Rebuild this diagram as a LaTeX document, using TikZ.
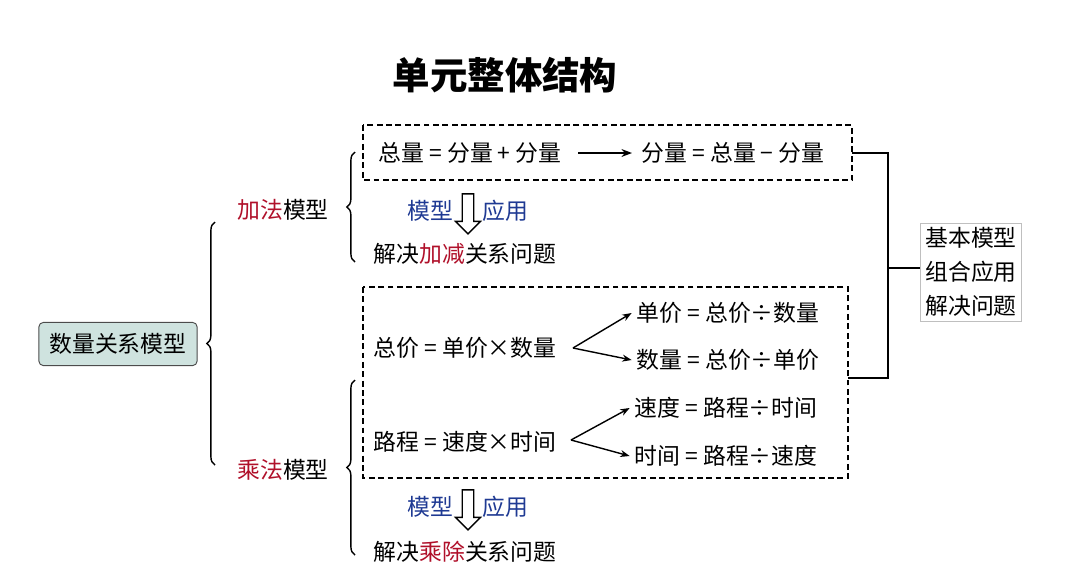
\documentclass[tikz,border=0pt]{standalone}
\usepackage{fontspec}
\setmainfont{Noto Sans CJK SC}
\usetikzlibrary{arrows.meta,positioning,shapes.arrows,decorations.pathreplacing}
\definecolor{modred}{HTML}{B0102A}
\definecolor{modblue}{HTML}{1F3A93}
\definecolor{rootfill}{HTML}{CFE3DF}
\begin{document}
\begin{tikzpicture}[x=0.03cm,y=-0.03cm,
    txt/.style={font=\fontsize{19.5}{23}\selectfont,inner sep=1pt},
    blue txt/.style={txt,text=modblue},
    brace/.style={decorate,decoration={brace,amplitude=7pt,raise=0pt},line width=1.2pt},
    dbox/.style={draw,dash pattern=on 5pt off 3pt,line width=1.1pt},
    hollow/.style={single arrow,draw,line width=1.1pt,shape border rotate=270,minimum height=1.2cm,
                   minimum width=0.75cm,single arrow head extend=3pt,inner sep=2pt},
    fork/.style={-{Stealth[length=8pt]},line width=1.2pt}]
  \useasboundingbox (0,0) rectangle (1080,575);

  \node[font=\fontsize{32}{36}\selectfont\bfseries] (title) at (505,75) {单元整体结构};

  % left part
  \node[txt,draw=black!70,thick,fill=rootfill,rounded corners=4pt,minimum width=4.75cm,
        minimum height=1.3cm] (root) at (118,344) {数量关系模型};
  \draw[brace] (215,465) -- (215,222);
  \node[txt] (add) at (283,210) {\textcolor{modred}{加法}模型};
  \node[txt] (mul) at (283,470) {\textcolor{modred}{乘法}模型};

  % addition model
  \draw[brace] (355,262) -- (355,152);
  \draw[dbox] (363,125) rectangle (852,180);
  \coordinate (box1r) at (852,153);
  \node[txt] (sum) at (470,153) {总量 = 分量 + 分量};
  \node[txt] (part) at (733,153) {分量 = 总量 − 分量};
  \draw[-{Stealth[length=9pt]},line width=1.2pt] (578,153) -- (632,153);
  \node[hollow] (arrA) at (468,211) {};
  \node[blue txt,left=6pt of arrA] (modA) {模型};
  \node[blue txt,right=6pt of arrA] (useA) {应用};
  \node[txt] (solveA) at (465,254) {解决\textcolor{modred}{加减}关系问题};

  % multiplication model
  \draw[brace] (355,555) -- (355,380);
  \draw[dbox] (363,287) rectangle (848,478);
  \coordinate (box2r) at (848,378);
  \node[txt] (price) at (465,348) {总价 = 单价×数量};
  \node[txt] (unit) at (728,313) {单价 = 总价÷数量};
  \node[txt] (qty) at (728,360) {数量 = 总价÷单价};
  \coordinate (f1) at (573,348);
  \draw[fork] (f1) -- ([xshift=-3pt]unit.west);
  \draw[fork] (f1) -- ([xshift=-3pt]qty.west);
  \node[txt] (dist) at (465,442) {路程 = 速度×时间};
  \node[txt] (speed) at (726,408) {速度 = 路程÷时间};
  \node[txt] (time) at (726,456) {时间 = 路程÷速度};
  \coordinate (f2) at (571,440);
  \draw[fork] (f2) -- ([xshift=-3pt]speed.west);
  \draw[fork] (f2) -- ([xshift=-3pt]time.west);
  \node[hollow] (arrM) at (468,507) {};
  \node[blue txt,left=6pt of arrM] (modM) {模型};
  \node[blue txt,right=6pt of arrM] (useM) {应用};
  \node[txt] (solveM) at (465,552) {解决\textcolor{modred}{乘除}关系问题};

  % right part
  \node[txt,draw=black!25,align=center,inner sep=4pt,font=\fontsize{19.5}{29}\selectfont]
        (basic) at (971,272) {基本模型\\组合应用\\解决问题};
  \draw[line width=1.3pt] (box1r) -- (888,153) -- (888,378) -- (box2r);
  \draw[line width=1.3pt] (888,268) -- (basic.west |- 888,268);
\end{tikzpicture}
\end{document}
